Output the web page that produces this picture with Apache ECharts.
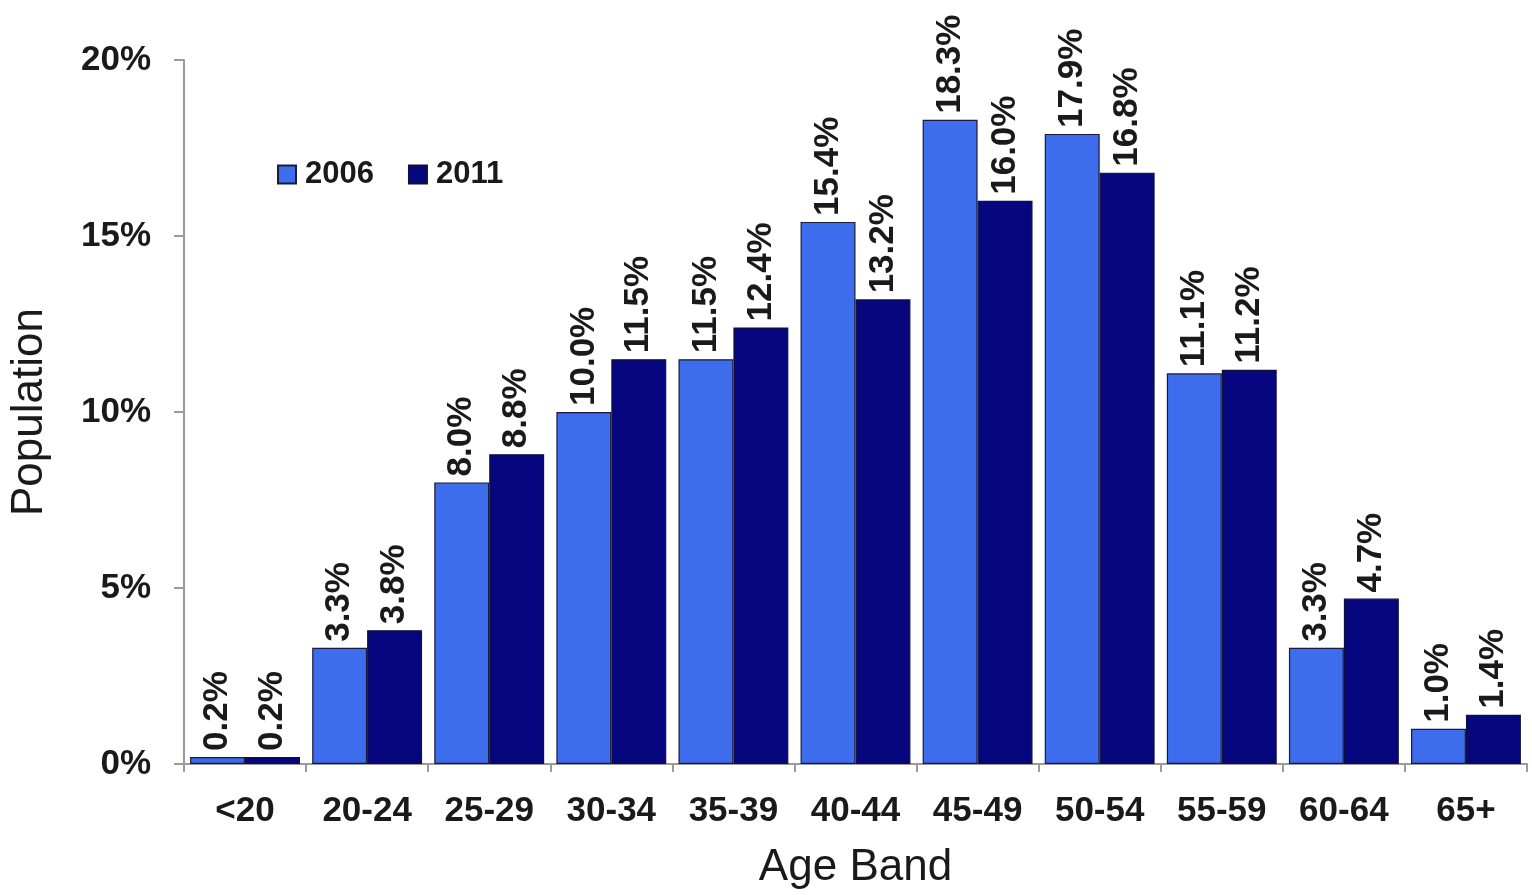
<!DOCTYPE html>
<html>
<head>
<meta charset="utf-8">
<script src="https://cdn.jsdelivr.net/npm/echarts@6/dist/echarts.min.js"></script>
<style>html,body{margin:0;padding:0;background:#fff;}#c{width:1532px;height:895px;}</style>
</head>
<body>
<div id="c"></div>
<script>
const categories = ['<20','20-24','25-29','30-34','35-39','40-44','45-49','50-54','55-59','60-64','65+'];
const values2006 = [0.2,3.3,8.0,10.0,11.5,15.4,18.3,17.9,11.1,3.3,1.0];
const values2011 = [0.2,3.8,8.8,11.5,12.4,13.2,16.0,16.8,11.2,4.7,1.4];
const yTicks = [0,5,10,15,20];

const FONT = '"Liberation Sans", Arial, sans-serif';
const chart = echarts.init(document.getElementById('c'));
const labelCfg = {
  show: true, position: 'top', rotate: 90, align: 'left', verticalAlign: 'middle', distance: 6,
  fontFamily: FONT, fontWeight: 'bold', fontSize: 35, color: '#1a1a1a',
  formatter: p => p.value.toFixed(1) + '%'
};
chart.setOption({
  animation: false,
  backgroundColor: '#fff',
  grid: { left: 180, right: 5, top: 60, bottom: 127, containLabel: false },
  legend: {
    left: 272, top: 154, itemWidth: 18, itemHeight: 18, itemGap: 34, icon: 'rect',
    textStyle: { fontFamily: FONT, fontWeight: 'bold', fontSize: 31, color: '#1a1a1a', padding: [0,0,0,4] },
    data: ['2006', '2011']
  },
  xAxis: {
    type: 'category', data: categories, boundaryGap: true,
    name: 'Age Band', nameLocation: 'middle', nameGap: 82,
    nameTextStyle: { fontFamily: FONT, fontSize: 44, color: '#1a1a1a' },
    axisLine: { lineStyle: { color: '#9a9a9a', width: 2 } },
    axisTick: { show: true, alignWithLabel: false, length: 8, lineStyle: { color: '#9a9a9a', width: 2 } },
    axisLabel: { margin: 30, fontFamily: FONT, fontWeight: 'bold', fontSize: 35, color: '#1a1a1a', interval: 0 }
  },
  yAxis: {
    type: 'value', min: yTicks[0], max: yTicks[yTicks.length-1], interval: 5,
    name: 'Population', nameLocation: 'middle', nameGap: 132,
    nameTextStyle: { fontFamily: FONT, fontSize: 44, color: '#1a1a1a' },
    axisLine: { show: true, lineStyle: { color: '#9a9a9a', width: 2 } },
    axisTick: { show: true, length: 10, lineStyle: { color: '#9a9a9a', width: 2 } },
    splitLine: { show: false },
    axisLabel: { margin: 33, fontFamily: FONT, fontWeight: 'bold', fontSize: 35, color: '#1a1a1a', formatter: '{value}%' }
  },
  series: [
    { name: '2006', type: 'bar', data: values2006, barGap: '0%', barCategoryGap: '10%',
      itemStyle: { color: '#3d6cec', borderColor: '#1a1a3a', borderWidth: 1.2 }, label: labelCfg },
    { name: '2011', type: 'bar', data: values2011, barGap: '0%', barCategoryGap: '10%',
      itemStyle: { color: '#06067e', borderColor: '#10103a', borderWidth: 1.2 }, label: labelCfg }
  ]
});
</script>
</body>
</html>
